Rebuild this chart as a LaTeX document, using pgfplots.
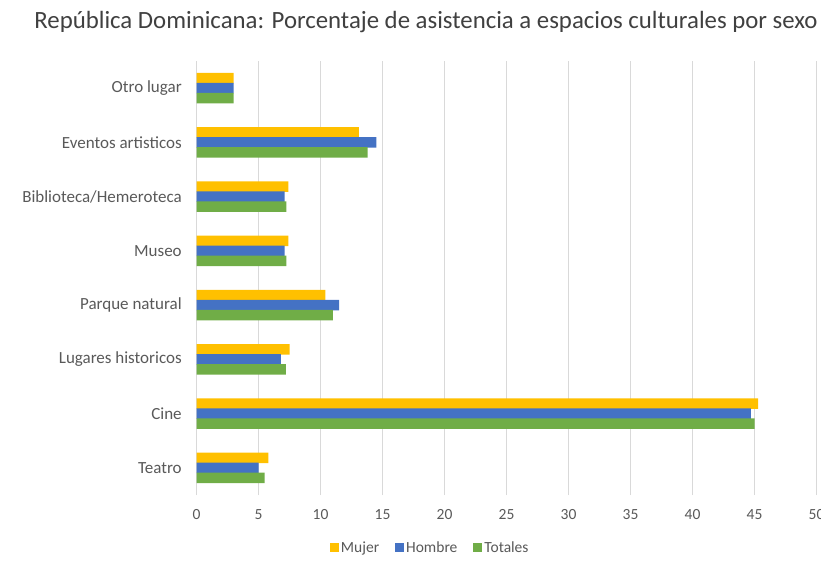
\documentclass[border=0pt]{standalone}
\usepackage{pgfplots}
\pgfplotsset{compat=1.18}
\usepackage{fontspec}
\setmainfont{Carlito}
\definecolor{cMujer}{HTML}{FFC000}
\definecolor{cHombre}{HTML}{4472C4}
\definecolor{cTotal}{HTML}{70AD47}
\definecolor{txt}{HTML}{595959}
\definecolor{ttl}{HTML}{404040}
\definecolor{grd}{HTML}{D9D9D9}
\begin{document}
\begin{tikzpicture}[x=1pt,y=1pt]
\path[use as bounding box] (0,0) rectangle (821,566);
\node[text=ttl,font=\fontsize{24.8}{26}\selectfont] at (426,544) {República Dominicana: Porcentaje de asistencia a espacios culturales por sexo};
\begin{axis}[
  at={(196.5pt,71pt)}, anchor=south west,
  scale only axis, width=620pt, height=434pt,
  xbar, bar width=10.6pt,
  xmin=0, xmax=50, xtick={0,5,...,50},
  ymin=-0.5, ymax=7.5, ytick={0,...,7},
  yticklabels={Teatro,Cine,Lugares historicos,Parque natural,Museo,Biblioteca/Hemeroteca,Eventos artisticos,Otro lugar},
  axis line style={draw=none},
  tick style={draw=none},
  xmajorgrids, major grid style={grd, line width=0.8pt},
  ticklabel style={text=txt},
  yticklabel style={font=\fontsize{17}{19}\selectfont, xshift=-7pt},
  xticklabel style={font=\fontsize{15.5}{17}\selectfont, yshift=-11pt},
  /pgf/number format/assume math mode=true,
  legend style={at={(0.377,-0.122)}, anchor=center, draw=none, legend columns=3,
    font=\fontsize{15.5}{17}\selectfont, text=txt,
    /tikz/every even column/.append style={column sep=14pt}},
  legend image code/.code={\fill[#1] (0pt,-4.5pt) rectangle (9pt,4.5pt);},
]
\addplot[fill=cMujer, draw=none, bar shift=10pt] coordinates {(5.8,0) (45.3,1) (7.5,2) (10.4,3) (7.4,4) (7.4,5) (13.1,6) (3.0,7)};
\addplot[fill=cHombre, draw=none, bar shift=0pt] coordinates {(5.0,0) (44.7,1) (6.8,2) (11.5,3) (7.1,4) (7.1,5) (14.5,6) (3.0,7)};
\addplot[fill=cTotal, draw=none, bar shift=-10pt] coordinates {(5.5,0) (45.0,1) (7.2,2) (11.0,3) (7.25,4) (7.25,5) (13.8,6) (3.0,7)};
\legend{Mujer,Hombre,Totales}
\end{axis}
\end{tikzpicture}
\end{document}
